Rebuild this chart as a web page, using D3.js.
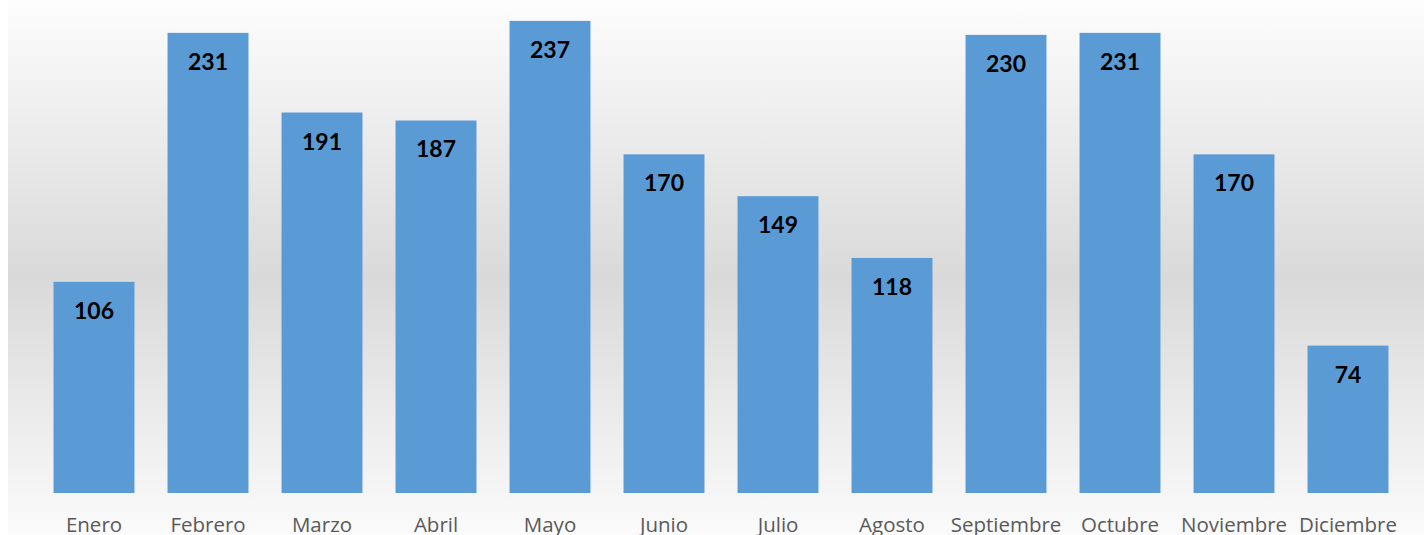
<!DOCTYPE html>
<html>
<head>
<meta charset="utf-8">
<script src="https://cdn.jsdelivr.net/npm/d3@7"></script>
<style>
  body { margin: 0; background: #fff; }
  svg { display: block; }
</style>
</head>
<body>
<script>
// datos del gráfico
const meses = ["Enero", "Febrero", "Marzo", "Abril", "Mayo", "Junio", "Julio",
  "Agosto", "Septiembre", "Octubre", "Noviembre", "Diciembre"];
const valores = [106, 231, 191, 187, 237, 170, 149, 118, 230, 231, 170, 74];

const width = 1424, height = 535;

const svg = d3.select("body").append("svg")
  .attr("width", width)
  .attr("height", height);

// fondo con degradado vertical
const grad = svg.append("defs").append("linearGradient")
  .attr("id", "fondo")
  .attr("x1", 0).attr("y1", 0).attr("x2", 0).attr("y2", 1);
grad.append("stop").attr("offset", "0%").attr("stop-color", "#fdfdfd");
grad.append("stop").attr("offset", "52%").attr("stop-color", "#d9d9d9");
grad.append("stop").attr("offset", "100%").attr("stop-color", "#fbfbfb");

svg.append("rect")
  .attr("x", 8).attr("y", 0)
  .attr("width", width - 8).attr("height", height)
  .attr("fill", "url(#fondo)");

const x = d3.scaleBand()
  .domain(meses)
  .range([37, 1405])
  .paddingInner(0.29)
  .paddingOuter(0.145);

const y = d3.scaleLinear()
  .domain([0, 250])
  .range([493, -5]);

svg.selectAll("rect.bar")
  .data(valores)
  .enter()
  .append("rect")
  .attr("class", "bar")
  .attr("x", (d, i) => x(meses[i]))
  .attr("y", d => y(d))
  .attr("width", x.bandwidth())
  .attr("height", d => y(0) - y(d))
  .attr("fill", "#5b9bd5");

svg.selectAll("text.valor")
  .data(valores)
  .enter()
  .append("text")
  .attr("class", "valor")
  .attr("x", (d, i) => x(meses[i]) + x.bandwidth() / 2)
  .attr("y", d => y(d) + 37)
  .attr("text-anchor", "middle")
  .style("font-family", "Lato, 'Open Sans', sans-serif")
  .style("font-weight", "bold")
  .style("font-size", "23px")
  .style("fill", "#000")
  .text(d => d);

// eje x sin línea ni marcas
const xAxis = svg.append("g")
  .attr("transform", "translate(0,493)")
  .call(d3.axisBottom(x).tickSize(0).tickPadding(24));
xAxis.select(".domain").remove();
xAxis.selectAll("text")
  .style("font-family", "'Open Sans', sans-serif")
  .style("font-size", "20.5px")
  .style("fill", "#595959");
</script>
</body>
</html>
